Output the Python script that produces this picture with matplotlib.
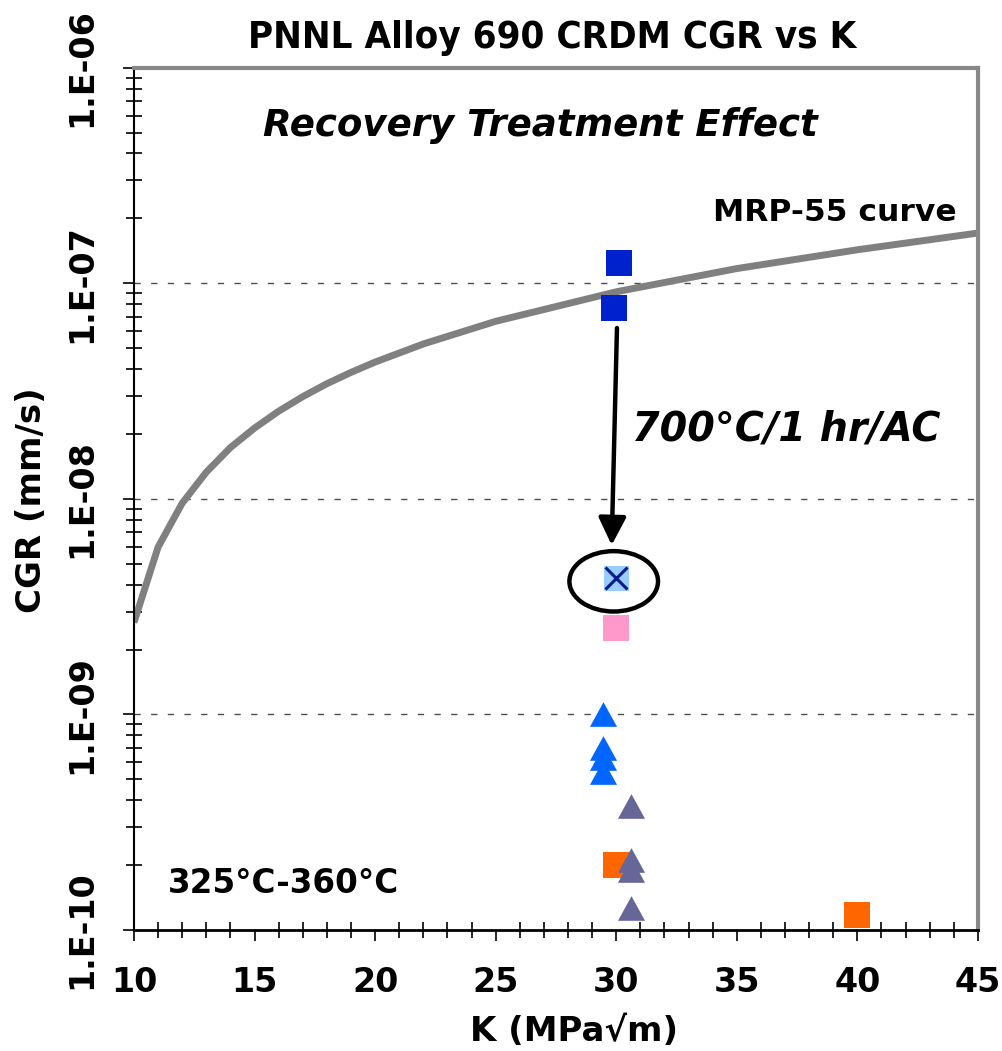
import matplotlib
matplotlib.use("Agg")
import matplotlib.pyplot as plt
from matplotlib.patches import Ellipse
from matplotlib.ticker import LogLocator, MultipleLocator, NullFormatter, FixedLocator

plt.rcParams['font.family'] = ['DejaVu Sans']
plt.rcParams['font.weight'] = 'bold'

# MRP-55 disposition curve (K, CGR mm/s)
curve_k = [10, 11, 12, 13, 14, 15, 16, 17, 18, 19, 20, 22, 25, 30, 35, 40, 45]
curve_cgr = [2.67e-9, 5.97e-9, 9.55e-9, 1.33e-8, 1.73e-8, 2.13e-8, 2.55e-8, 2.98e-8,
             3.42e-8, 3.86e-8, 4.31e-8, 5.23e-8, 6.66e-8, 9.13e-8, 1.17e-7, 1.43e-7, 1.71e-7]

# as-received CRDM specimens
blue_sq_k = [30.1, 29.9]
blue_sq_cgr = [1.24e-7, 7.7e-8]

# after 700C/1 hr/AC recovery treatment
treated_k = [30.0]
treated_cgr = [4.3e-9]

pink_k = [30.0]
pink_cgr = [2.52e-9]

blue_tri_k = [29.45, 29.45, 29.45, 29.45]
blue_tri_cgr = [1.0e-9, 6.98e-10, 6.28e-10, 5.42e-10]

slate_tri_k = [30.6, 30.6, 30.6, 30.6]
slate_tri_cgr = [3.75e-10, 2.12e-10, 1.89e-10, 1.26e-10]

orange_k = [30.0, 40.0]
orange_cgr = [2.0e-10, 1.18e-10]

arrow_from = (30.03, 6.2e-8)
arrow_to = (29.81, 6.1e-9)

fig = plt.figure(figsize=(10.02, 10.51), dpi=100)
ax = fig.add_axes([0.1337, 0.1151, 0.8423, 0.8205])

ax.set_xscale('linear')
ax.set_yscale('log')
ax.set_xlim(10, 45)
ax.set_ylim(1e-10, 1e-6)

# dashed gridlines at interior decades
for g in [1e-9, 1e-8, 1e-7]:
    ax.axhline(g, color='#4d4d4d', lw=1.0, dashes=(4.5, 7.5), zorder=1)

ax.plot(curve_k, curve_cgr, color='#808080', lw=5, solid_capstyle='butt', zorder=2)

ax.plot(blue_sq_k, blue_sq_cgr, ls='none', marker='s', ms=18.5, mew=0,
        color='#0022CC', zorder=4)
ax.plot(pink_k, pink_cgr, ls='none', marker='s', ms=18.5, mew=0, color='#FF99CC', zorder=4)
ax.plot(treated_k, treated_cgr, ls='none', marker='s', ms=18, mew=0, color='#99CCFF', zorder=4)
ax.plot(treated_k, treated_cgr, ls='none', marker='x', ms=16, mew=2.2, color='#0A1A8C', zorder=5)
ax.plot(orange_k, orange_cgr, ls='none', marker='s', ms=18.5, mew=0, color='#FF6600', zorder=4)

tri = [(-1.1, -1.0), (1.1, -1.0), (0.0, 1.0)]
ax.plot(blue_tri_k, blue_tri_cgr, ls='none', marker=tri, ms=19.5, mew=0,
        color='#0066FF', zorder=4)
ax.plot(slate_tri_k, slate_tri_cgr, ls='none', marker=tri, ms=19.5, mew=0,
        color='#666699', zorder=5)

ax.annotate('', xy=arrow_to, xytext=arrow_from,
            arrowprops=dict(arrowstyle='-|>', lw=3.2, color='black',
                            mutation_scale=42, shrinkA=0, shrinkB=0),
            zorder=6)

# ring around the treated point
fig.canvas.draw()
cx, cy = ax.transAxes.inverted().transform(
    ax.transData.transform((treated_k[0], treated_cgr[0])))
ring = Ellipse((cx - 0.003, cy - 0.004), 0.105, 0.070, transform=ax.transAxes,
               fill=False, edgecolor='black', lw=3.2, zorder=6)
ax.add_patch(ring)

# axes frame
for side in ['top', 'right']:
    ax.spines[side].set_color('#888888')
    ax.spines[side].set_linewidth(3)
ax.spines['left'].set_color('black')
ax.spines['left'].set_linewidth(1.5)
ax.spines['bottom'].set_color('black')
ax.spines['bottom'].set_linewidth(2)

ax.xaxis.set_major_locator(MultipleLocator(5))
ax.xaxis.set_minor_locator(MultipleLocator(1))
ax.yaxis.set_major_locator(FixedLocator([1e-10, 1e-9, 1e-8, 1e-7, 1e-6]))
ax.yaxis.set_minor_locator(LogLocator(base=10, subs=range(2, 10), numticks=20))
ax.yaxis.set_minor_formatter(NullFormatter())

ytick_labels = ['1.E-10', '1.E-09', '1.E-08', '1.E-07', '1.E-06']
ax.set_yticklabels(ytick_labels)
ax.tick_params(axis='both', which='major', direction='out', length=8, width=1.2,
               color='black')
ax.tick_params(axis='both', which='minor', direction='inout', length=12, width=1.2,
               color='black')
ax.tick_params(axis='x', which='major', labelsize=24, pad=18)
ax.tick_params(axis='y', which='major', labelsize=24, pad=18)
for lab in ax.get_yticklabels():
    lab.set_rotation(90)
    lab.set_va('center')
    lab.set_fontweight('bold')
for lab in ax.get_xticklabels():
    lab.set_fontweight('bold')

ax.set_xlabel('K (MPa√m)', fontsize=24.5, fontweight='bold', va='center')
ax.xaxis.set_label_coords(0.521, -0.118)
ax.set_ylabel('CGR (mm/s)', fontsize=24.5, fontweight='bold', va='center')
ax.yaxis.set_label_coords(-0.122, 0.499)

fig.text(0.551, 0.9638, 'PNNL Alloy 690 CRDM CGR vs K', ha='center', va='center',
         fontsize=27.5, fontweight='bold', fontstretch='condensed')

ax.text(0.481, 0.9335, 'Recovery Treatment Effect', transform=ax.transAxes,
        ha='center', va='center', fontsize=26.7, fontweight='bold', style='italic')
ax.text(0.975, 0.8326, 'MRP-55 curve', transform=ax.transAxes,
        ha='right', va='center', fontsize=22.6, fontweight='bold')
ax.text(0.590, 0.580, '700°C/1 hr/AC', transform=ax.transAxes,
        ha='left', va='center', fontsize=28.5, fontweight='bold', style='italic')
ax.text(0.0403, 0.0545, '325°C-360°C', transform=ax.transAxes,
        ha='left', va='center', fontsize=23.5, fontweight='bold')

fig.savefig('out.png', dpi=100)
